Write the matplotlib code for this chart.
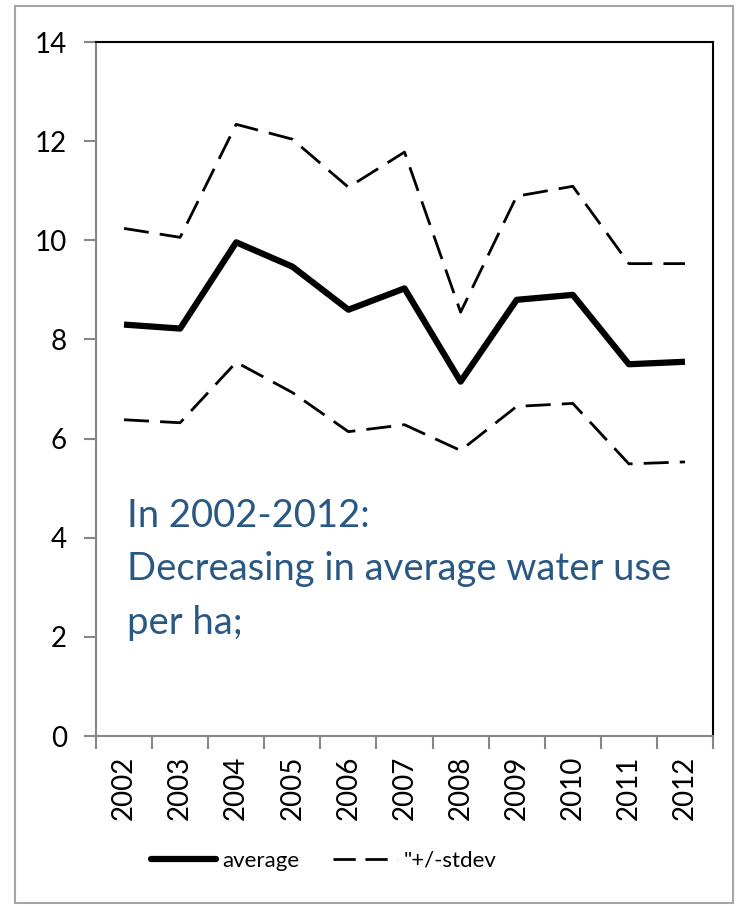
import matplotlib.pyplot as plt
from matplotlib.lines import Line2D

# データ
years = ['2002', '2003', '2004', '2005', '2006', '2007', '2008', '2009', '2010', '2011', '2012']
average = [8.30, 8.22, 9.96, 9.47, 8.60, 9.03, 7.15, 8.80, 8.90, 7.50, 7.55]
upper = [10.24, 10.06, 12.34, 12.04, 11.07, 11.78, 8.55, 10.89, 11.09, 9.53, 9.53]
lower = [6.38, 6.32, 7.54, 6.93, 6.14, 6.28, 5.76, 6.65, 6.71, 5.49, 5.53]

plt.rcParams['font.family'] = ['Lato', 'DejaVu Sans']

fig = plt.figure(figsize=(7.36, 9.06), dpi=100)
ax = fig.add_axes([0.1304, 0.1876, 0.8384, 0.766])

# 外枠
fig.patches.append(plt.Rectangle((0.021, 0.003), 0.975, 0.99, transform=fig.transFigure,
                                 fill=False, edgecolor='#a6a6a6', linewidth=1.5))

x = list(range(len(years)))
dash = (0, (9, 4))
ax.plot(x, average, color='black', linewidth=4.5, solid_capstyle='butt')
ax.plot(x, upper, color='black', linewidth=2, linestyle=dash)
ax.plot(x, lower, color='black', linewidth=2, linestyle=dash)

ax.set_xlim(-0.5, len(years) - 0.5)
ax.set_ylim(0, 14)
ax.set_yticks(range(0, 15, 2))
ax.set_xticks(x)
ax.set_xticklabels(years, rotation=90, fontsize=20)
ax.set_xticks([i - 0.5 for i in range(len(years) + 1)], minor=True)
ax.tick_params(axis='x', which='major', length=0, pad=14)
ax.tick_params(axis='x', which='minor', length=9, width=1.5, color='#868686', direction='out')
ax.tick_params(axis='y', length=9, width=1.5, color='#868686', labelsize=20, pad=12)

for s in ['left', 'bottom']:
    ax.spines[s].set_color('#868686')
    ax.spines[s].set_linewidth(1.5)
for s in ['top', 'right']:
    ax.spines[s].set_color('black')
    ax.spines[s].set_linewidth(1.5)

# テキスト
ax.text(0.05, 0.343, 'In 2002-2012:\nDecreasing in average water use\nper ha;',
        transform=ax.transAxes, fontsize=27.5, color='#2a5885',
        va='top', ha='left', linespacing=1.6)

# 凡例
handles = [Line2D([0], [0], color='black', linewidth=4.5, solid_capstyle='round'),
           Line2D([0], [0], color='black', linewidth=2, linestyle=(0, (8, 3.5)))]
fig.legend(handles, ['average', '"+/-stdev'], loc='center', bbox_to_anchor=(0.44, 0.05),
           ncol=2, frameon=False, fontsize=16, handlelength=2.9, handletextpad=0.3,
           columnspacing=1.5)

plt.savefig('out.png', dpi=100)
